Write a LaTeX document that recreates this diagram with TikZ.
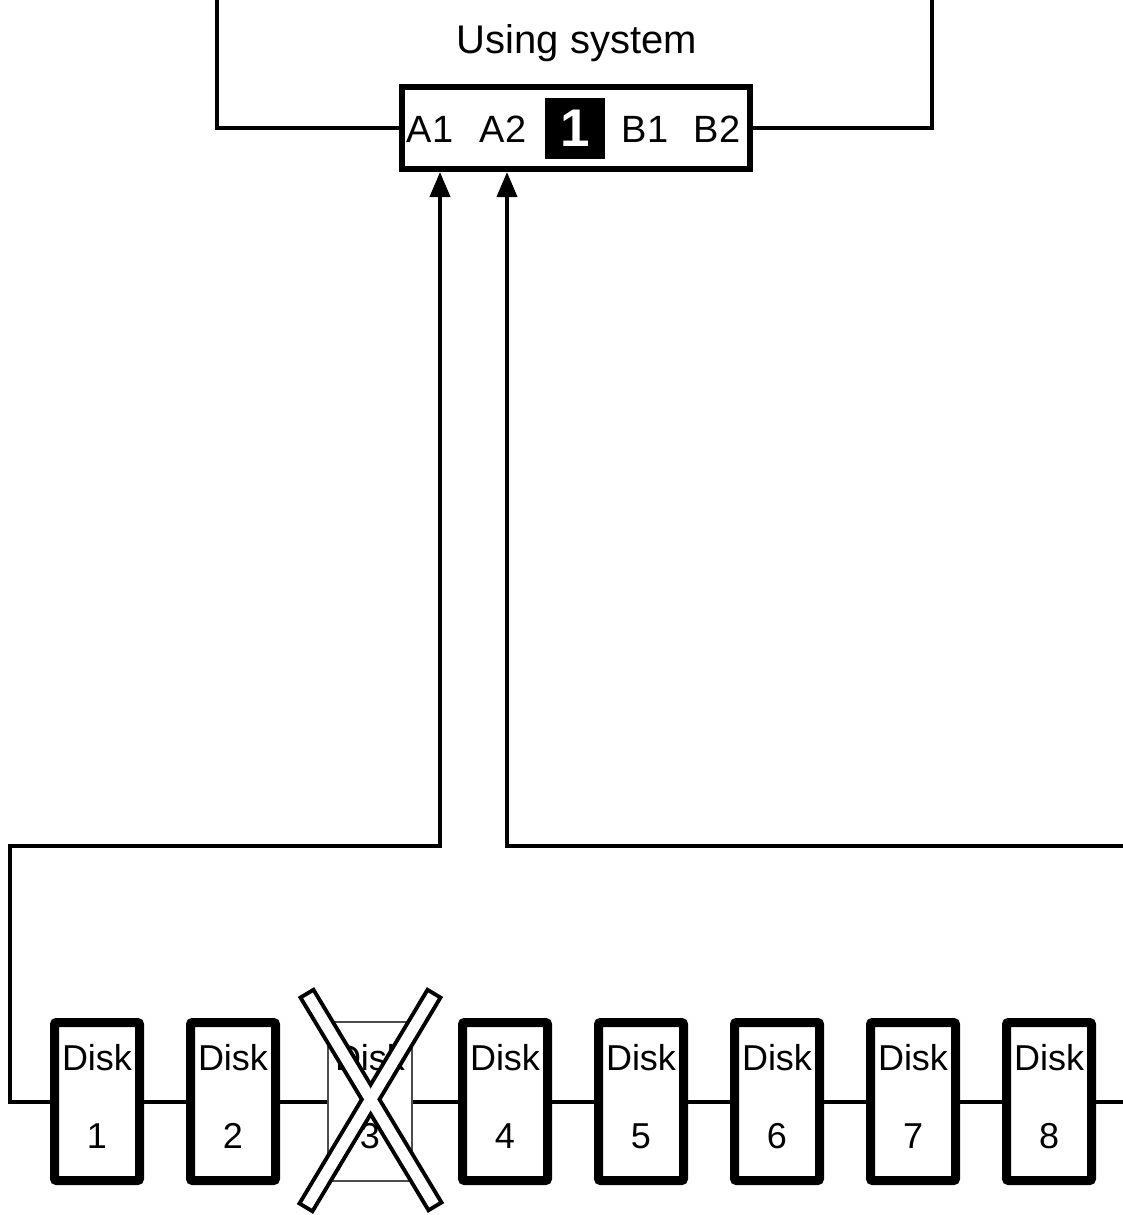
\documentclass[tikz,border=0pt]{standalone}
\usepackage{fontspec}
\setmainfont{Liberation Sans}
\usetikzlibrary{arrows.meta}
\newcommand{\dk}[1]{Disk\\#1\rule[-11pt]{0pt}{11pt}}
\begin{document}
\begin{tikzpicture}[x=1pt,y=-1pt,
  wire/.style={line width=4pt},
  arr/.style={wire,-{Triangle[length=25pt,width=20pt]}},
  disk/.style={draw,line width=9pt,rounded corners=2pt,minimum width=85pt,minimum height=158pt,inner sep=0pt,align=center,font=\fontsize{36}{78}\selectfont},
  faildisk/.style={draw=black!70,line width=1.5pt,minimum width=84pt,minimum height=159pt,inner sep=0pt,align=center,font=\fontsize{36}{78}\selectfont},
  port/.style={anchor=base,inner sep=0pt,font=\fontsize{38}{40}\selectfont},
  sysbox/.style={draw,line width=6pt,minimum width=348.5pt,minimum height=82pt,inner sep=0pt},
  xout/.style={line width=19pt,black},
  xin/.style={line width=11pt,white,shorten <=4pt,shorten >=4pt}]
\useasboundingbox (0,0) rectangle (1123,1215);
\node[anchor=base,inner sep=0pt,font=\fontsize{40}{44}\selectfont] (title) at (577,53) {Using system};
\node[sysbox] (box) at (575.75,127.5) {};
\node[port] (a1) at (430,142) {A1};
\node[port] (a2) at (503,142) {A2};
\node[fill=black,text=white,minimum width=60pt,minimum height=61pt,inner sep=0pt,font=\fontsize{53}{55}\selectfont\bfseries] (one) at (575,128.5) {1};
\node[port] (b1) at (645,142) {B1};
\node[port] (b2) at (717,142) {B2};
\coordinate (tl) at (217,0);
\coordinate (tr) at (932,0);
\coordinate (tipA) at (440,172);
\coordinate (tipB) at (507,172);
\coordinate (cl) at (10,845.5);
\coordinate (cr) at (1123,845.5);
\coordinate (br) at (1123,1101.5);
\draw[wire] (tl) |- (box.west);
\draw[wire] (tr) |- (box.east);
\node[disk] (d1) at (97,1101.5) {\dk{1}};
\node[disk] (d2) at (233,1101.5) {\dk{2}};
\node[faildisk] (d3) at (370,1101.5) {\dk{3}};
\node[disk] (d4) at (505,1101.5) {\dk{4}};
\node[disk] (d5) at (641,1101.5) {\dk{5}};
\node[disk] (d6) at (777,1101.5) {\dk{6}};
\node[disk] (d7) at (913,1101.5) {\dk{7}};
\node[disk] (d8) at (1049,1101.5) {\dk{8}};
\draw[arr] (d1.west) -| (cl) -| (tipA);
\draw[arr] (cr) -| (tipB);
\draw[wire] (d1.east) -- (d2.west);
\draw[wire] (d2.east) -- (d3.west);
\draw[wire] (d3.east) -- (d4.west);
\draw[wire] (d4.east) -- (d5.west);
\draw[wire] (d5.east) -- (d6.west);
\draw[wire] (d6.east) -- (d7.west);
\draw[wire] (d7.east) -- (d8.west);
\draw[wire] (d8.east) -- (br);
\coordinate (xa1) at (306,992);
\coordinate (xa2) at (436,1208);
\coordinate (xb1) at (435,992);
\coordinate (xb2) at (305,1209);
\draw[xout] (xa1) -- (xa2);
\draw[xout] (xb1) -- (xb2);
\draw[xin] (xa1) -- (xa2);
\draw[xin] (xb1) -- (xb2);
\end{tikzpicture}
\end{document}
